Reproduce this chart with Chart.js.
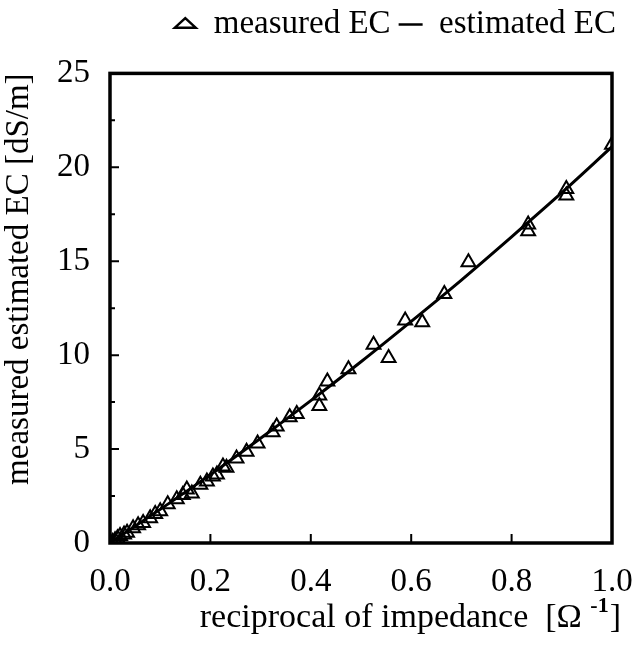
<!DOCTYPE html>
<html>
<head>
<meta charset="utf-8">
<script src="https://cdn.jsdelivr.net/npm/chart.js@4"></script>
<style>
html,body{margin:0;padding:0;background:#fff;}
#wrap{width:632px;height:645px;}
</style>
</head>
<body>
<div id="wrap"><canvas id="c" width="632" height="645"></canvas></div>
<script>
// reciprocal of impedance [1/Ohm] and measured EC [dS/m]
const measuredX = [0.005,0.01,0.015,0.02,0.028,0.034,0.046,0.056,0.066,0.08,0.09,0.1,0.115,0.133,0.145,0.153,0.163,0.18,0.193,0.205,0.213,0.225,0.232,0.252,0.272,0.294,0.324,0.332,0.358,0.372,0.417,0.417,0.433,0.475,0.525,0.555,0.588,0.622,0.666,0.714,0.833,0.833,0.909,0.909,1.0];
const measuredY = [0.05,0.15,0.25,0.37,0.45,0.55,0.79,0.95,1.06,1.32,1.55,1.69,2.06,2.33,2.55,2.85,2.64,3.1,3.28,3.54,3.65,4.07,4.0,4.5,4.86,5.3,5.9,6.2,6.7,6.87,7.3,7.85,8.6,9.25,10.55,9.85,11.85,11.75,13.25,14.95,16.6,16.95,18.5,18.85,21.2];
// estimated EC curve
const estimatedX = [0,0.1,0.2,0.3,0.4,0.5,0.6,0.7,0.8,0.9,1.0];
const estimatedY = [0,1.79,3.64,5.58,7.58,9.65,11.8,14.0,16.3,18.65,21.1];
const xTicks = [0,0.2,0.4,0.6,0.8,1.0];
const yTicks = [0,5,10,15,20,25];
const yMinorTicks = [2.5,7.5,12.5,17.5,22.5];

const FONT = "'Liberation Serif','Times New Roman',serif";
const LEFT = 110, BOTTOM = 543;

const framePlugin = {
  id: 'frame',
  afterDraw(chart) {
    const {ctx, chartArea: a, scales} = chart;
    ctx.save();
    ctx.strokeStyle = '#000';
    ctx.lineWidth = 3.5;
    ctx.strokeRect(a.left, a.top, a.right - a.left, a.bottom - a.top);
    ctx.lineWidth = 2;
    ctx.beginPath();
    xTicks.forEach(v => {
      const px = scales.x.getPixelForValue(v);
      ctx.moveTo(px, a.bottom); ctx.lineTo(px, a.bottom - 9);
    });
    yTicks.forEach(v => {
      const py = scales.y.getPixelForValue(v);
      ctx.moveTo(a.left, py); ctx.lineTo(a.left + 9, py);
    });
    yMinorTicks.forEach(v => {
      const py = scales.y.getPixelForValue(v);
      ctx.moveTo(a.left, py); ctx.lineTo(a.left + 5, py);
    });
    ctx.stroke();
    // x axis title with superscript
    ctx.fillStyle = '#000';
    ctx.textBaseline = 'alphabetic';
    ctx.textAlign = 'left';
    const main = 'reciprocal of impedance  [Ω ';
    const sup = '-1';
    const close = ']';
    ctx.font = "34px " + FONT;
    const w1 = ctx.measureText(main).width;
    ctx.font = "bold 22px " + FONT;
    const w2 = ctx.measureText(sup).width;
    ctx.font = "34px " + FONT;
    const w3 = ctx.measureText(close).width;
    const right = 620;
    const x = right - (w1 + w2 + w3);
    const base = 627;
    ctx.fillText(main, x, base);
    ctx.font = "bold 22px " + FONT;
    ctx.fillText(sup, x + w1, base - 15);
    ctx.font = "34px " + FONT;
    ctx.fillText(close, x + w1 + w2 + 1, base);
    ctx.restore();
  }
};

new Chart(document.getElementById('c'), {
  type: 'scatter',
  data: {
    datasets: [
      {
        label: 'measured EC',
        data: measuredX.map((x, i) => ({x, y: measuredY[i]})),
        pointStyle: 'triangle',
        pointRadius: 8,
        pointBorderWidth: 2,
        borderColor: '#000',
        backgroundColor: 'rgba(255,255,255,0)',
        showLine: false
      },
      {
        label: 'estimated EC',
        data: estimatedX.map((x, i) => ({x, y: estimatedY[i]})),
        showLine: true,
        borderColor: '#000',
        backgroundColor: '#000',
        borderWidth: 3,
        pointRadius: 0,
        pointStyle: 'line',
        cubicInterpolationMode: 'monotone'
      }
    ]
  },
  options: {
    responsive: false,
    animation: false,
    layout: { padding: { top: 0, right: 8, left: 0, bottom: 0 } },
    plugins: {
      legend: {
        display: true,
        position: 'top',
        align: 'end',
        labels: {
          usePointStyle: true,
          boxWidth: 10,
          boxHeight: 9,
          pointStyleWidth: 24,
          padding: 8,
          color: '#000',
          font: { size: 33, family: FONT },
          generateLabels: chart => {
            const items = Chart.defaults.plugins.legend.labels.generateLabels(chart);
            items.forEach(it => { it.lineWidth = 2.5; it.fillStyle = '#fff'; });
            return items;
          }
        }
      },
      title: {
        display: true,
        text: ' ',
        position: 'top',
        weight: 500,
        font: { size: 2 },
        padding: { top: 10, bottom: 10 }
      },
      tooltip: { enabled: false }
    },
    scales: {
      x: {
        type: 'linear',
        min: 0, max: 1,
        afterBuildTicks: s => { s.ticks = xTicks.map(v => ({value: v})); },
        afterFit: s => { s.height = 645 - BOTTOM; s.paddingLeft = 0; s.paddingRight = 0; },
        ticks: {
          color: '#000',
          padding: 20,
          font: { size: 33, family: FONT },
          callback: v => Number(v).toFixed(1),
          maxRotation: 0
        },
        grid: { display: false, drawTicks: false },
        border: { display: false }
      },
      y: {
        type: 'linear',
        min: 0, max: 25,
        afterBuildTicks: s => { s.ticks = yTicks.map(v => ({value: v})); },
        afterFit: s => { s.width = LEFT; s.paddingTop = 0; s.paddingBottom = 0; },
        ticks: {
          color: '#000',
          padding: 20,
          font: { size: 33, family: FONT }
        },
        title: {
          display: true,
          text: 'measured estimated EC [dS/m]',
          color: '#000',
          align: 'end',
          font: { size: 33, family: FONT },
          padding: { top: 0, bottom: 6 }
        },
        grid: { display: false, drawTicks: false },
        border: { display: false }
      },
      yr: {
        type: 'linear',
        position: 'right',
        min: 0, max: 25,
        display: true,
        afterFit: s => { s.width = 12; s.paddingTop = 0; s.paddingBottom = 0; },
        ticks: { display: false },
        grid: { display: false, drawTicks: false },
        border: { display: false }
      }
    }
  },
  plugins: [framePlugin]
});
</script>
</body>
</html>
